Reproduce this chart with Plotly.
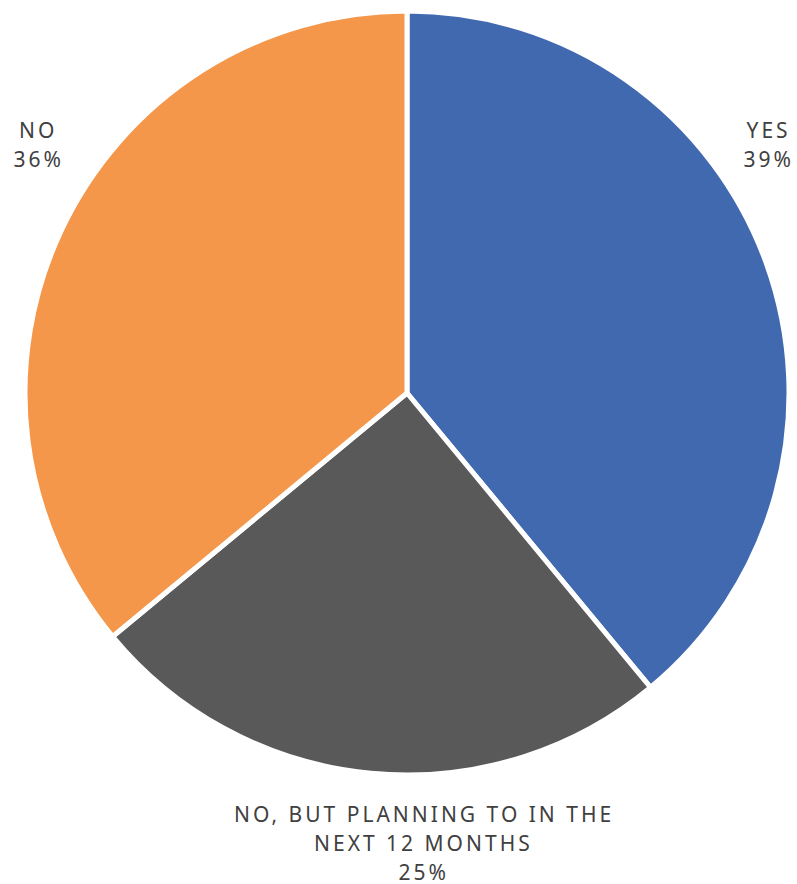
import plotly.graph_objects as go

# Survey answers and their shares (%)
labels = ["YES", "NO, BUT PLANNING TO IN THE NEXT 12 MONTHS", "NO"]
label_lines = [["YES"], ["NO, BUT PLANNING TO IN THE", "NEXT 12 MONTHS"], ["NO"]]
values = [39, 25, 36]
colors = ["#4169B0", "#595959", "#F5974A"]

W, H = 797, 884
cx, cy, r = 407, 393, 382

fig = go.Figure(go.Pie(
    labels=labels,
    values=values,
    sort=False,
    direction="clockwise",
    rotation=0,
    marker=dict(colors=colors, line=dict(color="white", width=5)),
    textinfo="none",
    hoverinfo="label+percent",
    showlegend=False,
    domain=dict(x=[(cx - r) / W, (cx + r) / W], y=[1 - (cy + r) / H, 1 - (cy - r) / H]),
))

# label anchor points (pixel centre of first text line) and line pitch
anchors = [(768, 130), (424, 814), (38, 130)]
pitch = 29
total = sum(values)
font = dict(family="Noto Sans", size=21, color="#404040")
annotations = []
for lines, v, (ax, ay) in zip(label_lines, values, anchors):
    rows = lines + [f"{round(100 * v / total)}%"]
    for i, t in enumerate(rows):
        annotations.append(dict(
            text=t, x=ax / W, y=1 - (ay + i * pitch) / H,
            xref="paper", yref="paper", xanchor="center", yanchor="middle",
            showarrow=False, font=font, borderpad=0,
        ))

fig.update_layout(
    width=W, height=H,
    margin=dict(l=0, r=0, t=0, b=0),
    paper_bgcolor="white", plot_bgcolor="white",
    annotations=annotations,
)

spacing_js = """
document.querySelectorAll('.annotation-text').forEach(function(e){
  e.style.letterSpacing = '3px';
});
"""
fig.write_html("out.html", post_script=spacing_js)
